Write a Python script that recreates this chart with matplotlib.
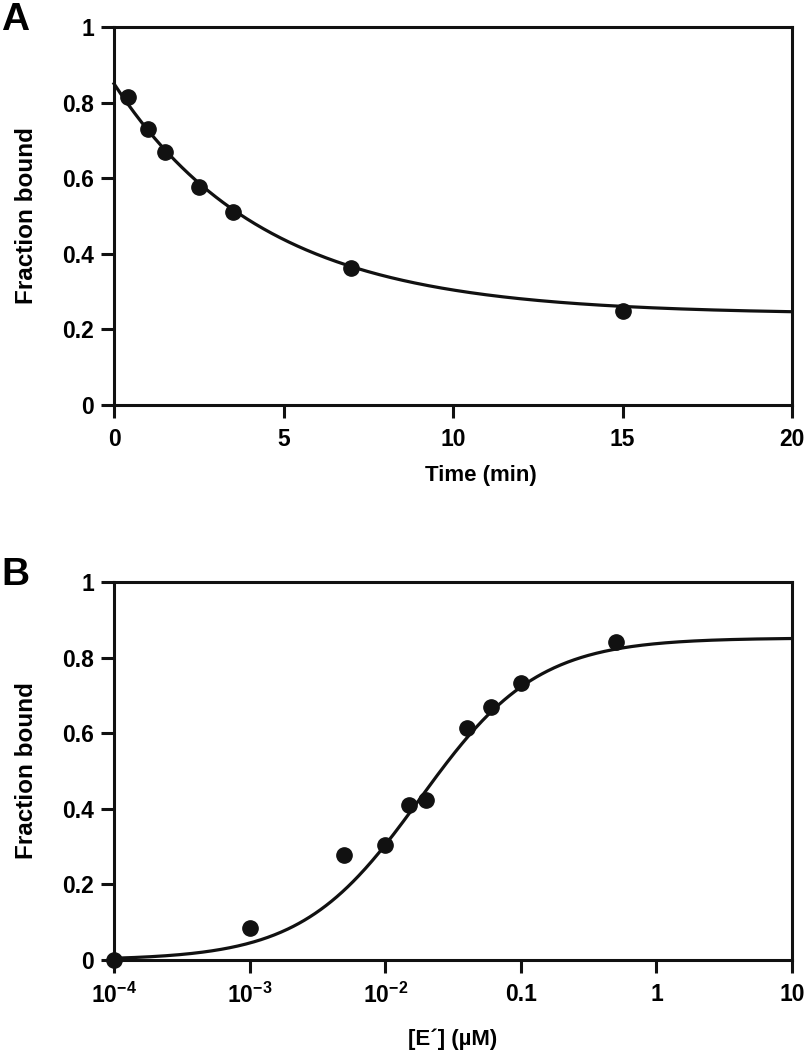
import numpy as np
import matplotlib
matplotlib.use("Agg")
import matplotlib.pyplot as plt
from matplotlib.ticker import FixedLocator, FixedFormatter, NullLocator

plt.rcParams['font.family'] = ['Liberation Sans', 'DejaVu Sans']
plt.rcParams['font.weight'] = 'bold'
plt.rcParams['mathtext.fontset'] = 'custom'
plt.rcParams['mathtext.rm'] = 'Liberation Sans:bold'
plt.rcParams['mathtext.it'] = 'Liberation Sans:bold'
plt.rcParams['mathtext.bf'] = 'Liberation Sans:bold'
plt.rcParams['mathtext.sf'] = 'Liberation Sans:bold'

# Panel A data
time_min = [0.4, 1.0, 1.5, 2.5, 3.5, 7.0, 15.0]
frac_a = [0.815, 0.730, 0.668, 0.578, 0.510, 0.363, 0.248]
# fit parameters (single exponential decay)
a_plateau = 0.24
a_amp = 0.61
a_k = 0.225

# Panel B data
conc_uM = [1e-4, 1e-3, 5e-3, 1e-2, 1.5e-2, 2e-2, 4e-2, 6e-2, 0.1, 0.5]
frac_b = [0.0, 0.085, 0.278, 0.305, 0.410, 0.422, 0.615, 0.668, 0.733, 0.840]
# fit parameters (hyperbolic binding)
b_max = 0.852
b_kd = 0.018

y_ticks = [0, 0.2, 0.4, 0.6, 0.8, 1]
y_labels = ['0', '0.2', '0.4', '0.6', '0.8', '1']
a_xticks = [0, 5, 10, 15, 20]
a_xlabels = ['0', '5', '10', '15', '20']
b_xticks = [1e-4, 1e-3, 1e-2, 0.1, 1, 10]
b_xlabels = [r'$\mathbf{10^{-4}}$', r'$\mathbf{10^{-3}}$', r'$\mathbf{10^{-2}}$', '0.1', '1', '10']

W, H = 805, 1050
fig = plt.figure(figsize=(W / 100, H / 100), dpi=100)

left = 114 / W
width = (792 - 114) / W
ax_h = 378 / H
axA = fig.add_axes([left, 1 - 405 / H, width, ax_h])
axB = fig.add_axes([left, 1 - 960 / H, width, ax_h])

lw_axis = 2.2
fs = 16.5
fs_ylab = 17.5
fs_xlab = 16

def style(ax):
    for s in ax.spines.values():
        s.set_linewidth(lw_axis)
        s.set_color('#111111')
    ax.tick_params(direction='out', length=9.5, width=lw_axis, color='#111111',
                   labelsize=fs, top=False, right=False)
    ax.tick_params(axis='y', pad=5)
    ax.tick_params(axis='x', pad=7)
    ax.set_ylim(0, 1)
    ax.set_yticks(y_ticks)
    ax.set_yticklabels(y_labels, fontsize=fs, fontweight='bold')
    ax.set_ylabel('Fraction bound', fontsize=fs_ylab, fontweight='bold', labelpad=17)

# Panel A
tt = np.linspace(0, 20, 400)
axA.plot(tt, a_plateau + a_amp * np.exp(-a_k * tt), color='#111111', lw=2.3, clip_on=False, zorder=3)
axA.plot(time_min, frac_a, 'o', color='#111111', ms=11, zorder=4, clip_on=False)
axA.set_xlim(0, 20)
axA.set_xticks(a_xticks)
axA.set_xticklabels(a_xlabels, fontsize=fs, fontweight='bold')
axA.set_xlabel('Time (min)', fontsize=fs_xlab, fontweight='bold')
style(axA)
axA.xaxis.set_label_coords(0.541, -0.16)

# Panel B
xx = np.logspace(-4, 1, 500)
axB.plot(xx, b_max * xx / (xx + b_kd), color='#111111', lw=2.3, clip_on=False, zorder=3)
axB.plot(conc_uM, frac_b, 'o', color='#111111', ms=11, zorder=4, clip_on=False)
axB.set_xscale('log')
axB.set_xlim(1e-4, 10)
axB.xaxis.set_major_locator(FixedLocator(b_xticks))
axB.xaxis.set_major_formatter(FixedFormatter(b_xlabels))
axB.xaxis.set_minor_locator(NullLocator())
axB.set_xlabel('[E\u00b4] (\u00b5M)', fontsize=fs_xlab, fontweight='bold')
style(axB)
axB.xaxis.set_label_coords(0.5, -0.18)

fig.text(1 / W, 1 - 20 / H, 'A', fontsize=28, fontweight='bold', va='center', ha='left')
fig.text(1 / W, 1 - 575 / H, 'B', fontsize=28, fontweight='bold', va='center', ha='left')

fig.savefig('out.png', dpi=100)
